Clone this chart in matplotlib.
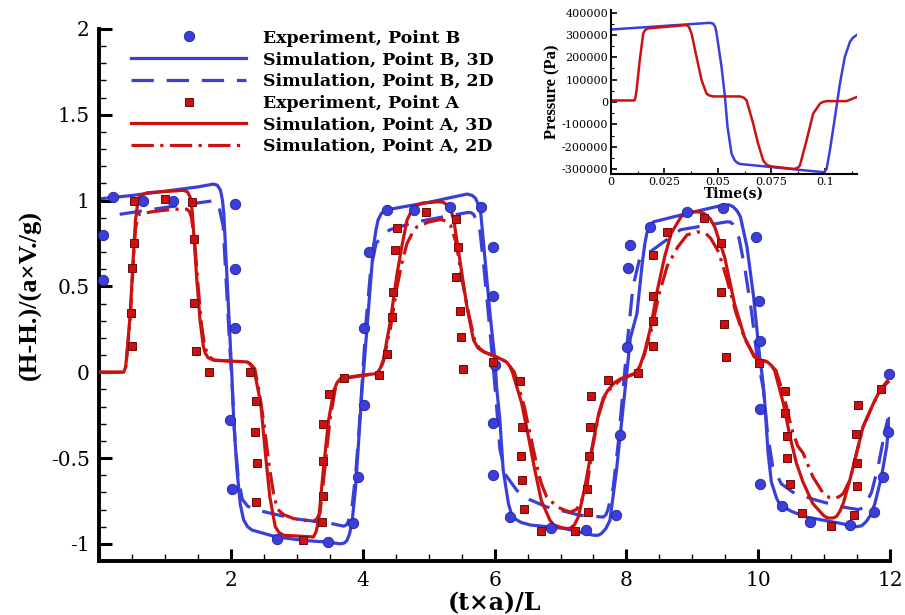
import numpy as np
import matplotlib
matplotlib.use("Agg")
import matplotlib.pyplot as plt

plt.rcParams['font.family'] = ['DejaVu Serif']

BLUE = '#3a3fd8'
RED = '#cc1111'

# ---- point B, 3D simulation
b3d_x = [0.0, 0.5, 1.0, 1.5, 1.73, 1.79, 1.84, 1.87, 1.89, 1.94, 1.99, 2.01, 2.04, 2.09, 2.14, 2.19, 2.25,
         2.32, 2.69, 3.1, 3.46, 3.66, 3.72, 3.76, 3.8, 3.84, 3.89, 3.94, 3.99, 4.02, 4.08, 4.16, 4.2, 4.23,
         4.28, 4.34, 5.0, 5.58, 5.66, 5.71, 5.76, 5.79, 5.86, 5.93, 6.01, 6.03, 6.08, 6.13, 6.21, 6.25, 6.29,
         6.4, 6.54, 7.05, 7.5, 7.57, 7.62, 7.69, 7.75, 7.85, 7.93, 8.01, 8.06, 8.16, 8.24, 8.28, 8.31, 8.36,
         8.41, 8.92, 9.47, 9.56, 9.62, 9.68, 9.73, 9.83, 9.93, 10.02, 10.07, 10.10, 10.15, 10.20, 10.28,
         10.32, 10.38, 10.5, 10.73, 11.24, 11.49, 11.57, 11.64, 11.71, 11.77, 11.87, 11.95, 11.99]
b3d_y = [1.01, 1.03, 1.055, 1.08, 1.096, 1.09, 1.06, 1.0, 0.925, 0.54, 0.15, 0.0, -0.28, -0.57, -0.77,
         -0.86, -0.90, -0.92, -0.96, -0.98, -0.99, -1.0, -0.995, -0.98, -0.94, -0.86, -0.67, -0.38, -0.085,
         0.05, 0.34, 0.73, 0.83, 0.886, 0.925, 0.945, 0.99, 1.038, 1.03, 1.013, 0.97, 0.925, 0.634, 0.34,
         0.05, -0.086, -0.28, -0.57, -0.766, -0.82, -0.85, -0.875, -0.89, -0.91, -0.95, -0.95, -0.94, -0.91,
         -0.863, -0.57, -0.28, 0.012, 0.2, 0.342, 0.634, 0.75, 0.81, 0.855, 0.876, 0.925, 0.974, 0.975,
         0.964, 0.94, 0.906, 0.73, 0.44, 0.1, -0.05, -0.18, -0.47, -0.64, -0.735, -0.765, -0.783, -0.81,
         -0.844, -0.88, -0.90, -0.895, -0.87, -0.83, -0.766, -0.61, -0.435, -0.27]

# ---- point B, 2D simulation
b2d_x = [0.31, 1.0, 1.73, 1.79, 1.82, 1.88, 1.93, 1.98, 2.02, 2.06, 2.11, 2.17, 2.25, 2.36, 2.95, 3.5, 3.71,
         3.75, 3.78, 3.84, 3.89, 3.94, 3.99, 4.05, 4.12, 4.2, 4.31, 4.41, 4.82, 5.58, 5.64, 5.68, 5.77, 5.84,
         5.91, 5.98, 6.03, 6.08, 6.17, 6.34, 6.44, 6.79, 7.3, 7.65, 7.69, 7.72, 7.8, 7.88, 7.95, 8.02, 8.1,
         8.2, 8.39, 8.82, 9.52, 9.58, 9.62, 9.71, 9.8, 9.9, 9.98, 10.08, 10.14, 10.22, 10.35, 10.53, 10.83,
         11.24, 11.52, 11.6, 11.72, 11.82, 11.92, 11.97]
b2d_y = [0.92, 0.96, 0.999, 0.99, 0.96, 0.85, 0.5, 0.15, -0.1, -0.4, -0.62, -0.74, -0.78, -0.80, -0.853,
         -0.88, -0.897, -0.89, -0.87, -0.77, -0.6, -0.35, -0.06, 0.3, 0.6, 0.75, 0.80, 0.83, 0.877, 0.93,
         0.93, 0.92, 0.85, 0.6, 0.32, 0.03, -0.2, -0.45, -0.6, -0.69, -0.727, -0.785, -0.834, -0.844, -0.83,
         -0.8, -0.67, -0.4, -0.1, 0.2, 0.5, 0.66, 0.71, 0.83, 0.876, 0.875, 0.86, 0.78, 0.6, 0.35, 0.1,
         -0.1, -0.35, -0.55, -0.65, -0.7, -0.74, -0.783, -0.80, -0.79, -0.7, -0.55, -0.35, -0.27]

# ---- point A, 3D simulation
a3d_x = [0.0, 0.37, 0.40, 0.42, 0.47, 0.51, 0.55, 0.58, 0.62, 0.73, 1.28, 1.34, 1.38, 1.41, 1.43, 1.48,
         1.53, 1.58, 1.61, 1.65, 1.73, 2.24, 2.29, 2.33, 2.36, 2.45, 2.52, 2.59, 2.67, 2.73, 2.8, 3.25, 3.29,
         3.33, 3.40, 3.48, 3.56, 3.61, 3.66, 3.97, 4.21, 4.26, 4.31, 4.41, 4.52, 4.59, 4.67, 4.77, 4.9, 5.13,
         5.22, 5.28, 5.34, 5.38, 5.48, 5.58, 5.68, 5.75, 5.84, 6.03, 6.18, 6.23, 6.27, 6.41, 6.51, 6.61,
         6.71, 6.84, 6.9, 6.97, 7.07, 7.14, 7.21, 7.27, 7.37, 7.48, 7.58, 7.65, 7.72, 7.82, 7.92, 8.12, 8.2,
         8.27, 8.37, 8.47, 8.58, 8.68, 8.83, 8.93, 9.03, 9.12, 9.18, 9.27, 9.34, 9.49, 9.64, 9.79, 9.94,
         10.04, 10.14, 10.2, 10.25, 10.38, 10.48, 10.58, 10.68, 10.83, 10.99, 11.04, 11.09, 11.14, 11.19,
         11.24, 11.29, 11.39, 11.49, 11.59, 11.75, 11.85, 11.97]
a3d_y = [0.0, 0.0, 0.03, 0.11, 0.34, 0.63, 0.886, 0.98, 1.03, 1.046, 1.06, 1.05, 1.02, 0.94, 0.83, 0.54,
         0.30, 0.15, 0.11, 0.085, 0.07, 0.06, 0.05, 0.02, -0.008, -0.18, -0.47, -0.73, -0.90, -0.935, -0.95,
         -0.96, -0.93, -0.86, -0.57, -0.28, -0.105, -0.06, -0.037, -0.018, -0.008, 0.02, 0.07, 0.28, 0.575,
         0.73, 0.886, 0.964, 0.985, 0.993, 0.99, 0.974, 0.94, 0.886, 0.634, 0.38, 0.187, 0.14, 0.118, 0.089,
         0.06, 0.035, 0.0, -0.18, -0.37, -0.57, -0.75, -0.863, -0.89, -0.90, -0.91, -0.91, -0.89, -0.844,
         -0.67, -0.435, -0.24, -0.15, -0.105, -0.06, -0.037, -0.008, 0.03, 0.109, 0.264, 0.478, 0.672, 0.81,
         0.906, 0.93, 0.935, 0.933, 0.925, 0.895, 0.847, 0.672, 0.40, 0.206, 0.089, 0.07, 0.06, 0.04, 0.01,
         -0.18, -0.37, -0.53, -0.64, -0.766, -0.834, -0.847, -0.85, -0.849, -0.84, -0.81, -0.766, -0.63,
         -0.475, -0.32, -0.18, -0.105, -0.057]

# ---- point A, 2D simulation
a2d_x = [0.0, 0.37, 0.40, 0.42, 0.47, 0.51, 0.55, 0.6, 0.8, 1.13, 1.33, 1.37, 1.40, 1.45, 1.5, 1.55, 1.6,
         1.66, 1.75, 2.24, 2.3, 2.36, 2.42, 2.5, 2.58, 2.65, 2.71, 2.8, 2.95, 3.25, 3.3, 3.35, 3.42, 3.5, 3.58,
         3.63, 3.68, 4.21, 4.26, 4.31, 4.42, 4.52, 4.6, 4.67, 4.75, 4.82, 5.0, 5.18, 5.27, 5.33, 5.42, 5.5,
         5.6, 5.7, 5.77, 5.84, 6.03, 6.18, 6.3, 6.45, 6.56, 6.66, 6.71, 6.79, 6.95, 7.07, 7.15, 7.24, 7.30,
         7.40, 7.48, 7.58, 7.65, 7.72, 7.92, 8.12, 8.2, 8.27, 8.38, 8.5, 8.62, 8.78, 8.92, 9.07, 9.2, 9.28,
         9.4, 9.52, 9.66, 9.8, 9.95, 10.14, 10.27, 10.4, 10.5, 10.6, 10.68, 10.83, 10.99, 11.08, 11.16, 11.23,
         11.29, 11.39, 11.49, 11.59, 11.75, 11.85, 11.97]
a2d_y = [0.0, 0.0, 0.03, 0.1, 0.32, 0.6, 0.84, 0.92, 0.935, 0.95, 0.95, 0.935, 0.9, 0.75, 0.5, 0.28, 0.15,
         0.09, 0.07, 0.06, 0.045, 0.02, -0.1, -0.3, -0.55, -0.72, -0.80, -0.83, -0.853, -0.87, -0.855, -0.82,
         -0.57, -0.28, -0.1, -0.06, -0.037, -0.008, 0.015, 0.06, 0.26, 0.5, 0.65, 0.75, 0.81, 0.847, 0.875,
         0.89, 0.88, 0.857, 0.75, 0.55, 0.35, 0.18, 0.14, 0.118, 0.089, 0.06, 0.0, -0.2, -0.4, -0.58, -0.65,
         -0.727, -0.785, -0.805, -0.815, -0.8, -0.766, -0.67, -0.45, -0.25, -0.16, -0.11, -0.04, -0.01, 0.03,
         0.1, 0.25, 0.46, 0.62, 0.73, 0.80, 0.818, 0.81, 0.78, 0.7, 0.55, 0.35, 0.19, 0.09, 0.06, 0.01,
         -0.15, -0.32, -0.43, -0.47, -0.61, -0.707, -0.73, -0.735, -0.725, -0.707, -0.63, -0.475, -0.32,
         -0.18, -0.105, -0.046]

# ---- measurements
expB_x = [0.05, 0.05, 0.21, 0.67, 1.12, 2.06, 2.06, 2.06, 1.98, 2.01, 2.70, 3.47, 3.85, 3.92, 4.01,
          4.02, 4.10, 4.36, 4.77, 5.33, 5.79, 5.97, 5.97, 6.01, 5.98, 5.97, 6.23, 6.85, 7.39, 7.84, 7.90,
          8.01, 8.03, 8.06, 8.36, 8.92, 9.46, 9.96, 10.01, 10.02, 10.03, 10.03, 10.36, 10.78, 11.40, 11.75,
          11.89, 11.97, 11.99]
expB_y = [0.80, 0.54, 1.02, 1.0, 1.0, 0.98, 0.60, 0.26, -0.276, -0.68, -0.97, -0.99, -0.88, -0.61, -0.19,
          0.26, 0.70, 0.945, 0.945, 0.96, 0.96, 0.73, 0.443, 0.04, -0.295, -0.60, -0.844, -0.905, -0.92,
          -0.834, -0.367, 0.148, 0.61, 0.74, 0.847, 0.935, 0.954, 0.79, 0.416, 0.183, -0.217, -0.653, -0.78,
          -0.87, -0.89, -0.815, -0.61, -0.35, -0.012]

expA_x = [0.53, 0.53, 0.50, 0.48, 0.50, 0.99, 1.41, 1.43, 1.43, 1.47, 1.67, 2.29, 2.38, 2.36, 2.39, 2.38,
          3.09, 3.38, 3.39, 3.39, 3.40, 3.48, 3.71, 4.25, 4.36, 4.44, 4.46, 4.49, 4.52, 4.96, 5.42, 5.44,
          5.42, 5.47, 5.49, 5.52, 5.97, 6.38, 6.41, 6.40, 6.41, 6.45, 6.70, 7.22, 7.41, 7.40, 7.43, 7.45,
          7.47, 7.72, 8.18, 8.41, 8.41, 8.41, 8.40, 8.62, 9.18, 9.43, 9.43, 9.48, 9.51, 10.01, 10.40, 10.40,
          10.43, 10.43, 10.49, 10.66, 11.11, 11.46, 11.50, 11.50, 11.49, 11.52, 11.87]
expA_y = [1.0, 0.754, 0.605, 0.346, 0.152, 1.007, 0.993, 0.774, 0.404, 0.122, 0.0, 0.002, -0.167, -0.35,
          -0.53, -0.756, -0.976, -0.87, -0.72, -0.52, -0.30, -0.128, -0.031, -0.014, 0.105, 0.319, 0.468,
          0.715, 0.838, 0.935, 0.89, 0.73, 0.556, 0.357, 0.206, 0.021, 0.06, -0.05, -0.32, -0.49, -0.63,
          -0.795, -0.927, -0.925, -0.815, -0.68, -0.49, -0.32, -0.14, -0.043, -0.004, 0.15, 0.30, 0.443,
          0.682, 0.818, 0.896, 0.75, 0.468, 0.28, 0.086, 0.054, -0.11, -0.237, -0.37, -0.50, -0.65, -0.82,
          -0.895, -0.83, -0.664, -0.53, -0.36, -0.19, -0.095]

# ---- inset: pressure history (Pa)
pB_t = [0.0, 0.0463, 0.0478, 0.0488, 0.0494, 0.0517, 0.0533, 0.0545, 0.0564, 0.0578, 0.0587, 0.0603,
        0.0975, 0.0992, 0.1000, 0.1008, 0.1023, 0.1047, 0.107, 0.1093, 0.1117, 0.113, 0.1148]
pB_p = [324000, 354000, 350000, 335000, 306000, 157000, 22000, -112000, -232000, -260000, -269000,
        -277000, -312000, -314000, -309000, -299000, -217000, -67000, 82000, 202000, 269000, 287000, 299000]
pA_t = [0.0, 0.011, 0.0115, 0.012, 0.0135, 0.0151, 0.016, 0.0174, 0.0354, 0.0365, 0.0377, 0.04, 0.0424,
        0.0447, 0.046, 0.0478, 0.0603, 0.062, 0.0634, 0.0665, 0.0688, 0.0712, 0.0725, 0.0743, 0.0852,
        0.0865, 0.0875, 0.0883, 0.0914, 0.0945, 0.0977, 0.099, 0.1008, 0.1101, 0.1148]
pA_p = [7000, 7000, 20000, 52000, 187000, 306000, 322000, 329000, 344000, 335000, 306000, 202000, 97000,
        37000, 29000, 25000, 25000, 20000, 7000, -97000, -187000, -262000, -278000, -287000, -299000,
        -297000, -292000, -284000, -172000, -52000, -7000, 0, 4000, 4000, 22000]

fig = plt.figure(figsize=(9.05, 6.15), dpi=100)
ax = fig.add_axes([0.1097, 0.0878, 0.8737, 0.8651])

l1, = ax.plot(b3d_x, b3d_y, color=BLUE, lw=2.3, zorder=2)
l2, = ax.plot(b2d_x, b2d_y, color=BLUE, lw=2.3, dashes=(7, 4), zorder=2)
l3, = ax.plot(a3d_x, a3d_y, color=RED, lw=2.3, zorder=3)
l4, = ax.plot(a2d_x, a2d_y, color=RED, lw=2.3, dashes=(7, 2, 1, 2), zorder=3)
m1, = ax.plot(expB_x, expB_y, 'o', color=BLUE, mec='#2020a0', mew=0.6, ms=7.5, ls='none',
              zorder=5, clip_on=False)
m2, = ax.plot(expA_x, expA_y, 's', color=RED, mec='#6a0a0a', mew=0.7, ms=5.5, ls='none',
              zorder=5, clip_on=False)

ax.set_xlim(0, 12)
ax.set_ylim(-1.1, 2.0)
ax.set_xticks([0, 2, 4, 6, 8, 10, 12])
ax.set_xticklabels(['', '2', '4', '6', '8', '10', '12'])
ax.set_xticks(np.arange(0, 12.01, 0.5), minor=True)
ax.set_yticks([-1, -0.5, 0, 0.5, 1, 1.5, 2])
ax.set_yticklabels(['-1', '-0.5', '0', '0.5', '1', '1.5', '2'])
ax.set_yticks(np.arange(-1.1, 2.001, 0.1), minor=True)
ax.tick_params(which='major', direction='in', length=9, width=2.2, labelsize=14.5, pad=7)
ax.tick_params(which='minor', direction='in', length=5, width=1.0)
for s in ['top', 'right']:
    ax.spines[s].set_visible(False)
for s in ['left', 'bottom']:
    ax.spines[s].set_linewidth(2.8)

ax.set_xlabel('(t×a)/L', fontsize=17, fontweight='bold', labelpad=1)
ax.set_ylabel('(H-H.)/(a×V./g)', fontsize=19, fontweight='bold', labelpad=6,
              family='Liberation Serif')

fig.legend([m1, l1, l2, m2, l3, l4],
           ['Experiment, Point B', 'Simulation, Point B, 3D', 'Simulation, Point B, 2D',
            'Experiment, Point A', 'Simulation, Point A, 3D', 'Simulation, Point A, 2D'],
           loc='upper left', bbox_to_anchor=(0.145, 0.952), frameon=False, numpoints=1,
           handlelength=6.6, handletextpad=1.0, labelspacing=0.27, borderpad=0, borderaxespad=0,
           prop={'family': 'DejaVu Serif', 'weight': 'bold', 'size': 12.5})

# inset with pressure traces
ins = fig.add_axes([0.675, 0.717, 0.272, 0.267])
ins.plot(pB_t, pB_p, color=BLUE, lw=1.8)
ins.plot(pA_t, pA_p, color=RED, lw=1.8)
ins.set_xlim(0, 0.115)
ins.set_ylim(-322000, 412000)
ins.set_xticks([0, 0.025, 0.05, 0.075, 0.1])
ins.set_xticklabels(['0', '0.025', '0.05', '0.075', '0.1'])
ins.set_yticks(np.arange(-300000, 400001, 100000))
ins.set_yticklabels([str(v) for v in range(-300000, 400001, 100000)])
ins.set_yticks(np.arange(-300000, 400001, 50000), minor=True)
ins.set_xticks(np.arange(0, 0.1151, 0.0125), minor=True)
ins.tick_params(which='major', direction='in', length=4, width=1.2, labelsize=8, pad=2)
ins.tick_params(which='minor', direction='in', length=2, width=0.8)
for s in ['top', 'right']:
    ins.spines[s].set_visible(False)
for s in ['left', 'bottom']:
    ins.spines[s].set_linewidth(1.5)
ins.set_xlabel('Time(s)', fontsize=10, fontweight='bold', labelpad=0)
ins.set_ylabel('Pressure (Pa)', fontsize=12, fontweight='bold', labelpad=1,
               family='Liberation Serif')

fig.savefig('out.png', dpi=100)
